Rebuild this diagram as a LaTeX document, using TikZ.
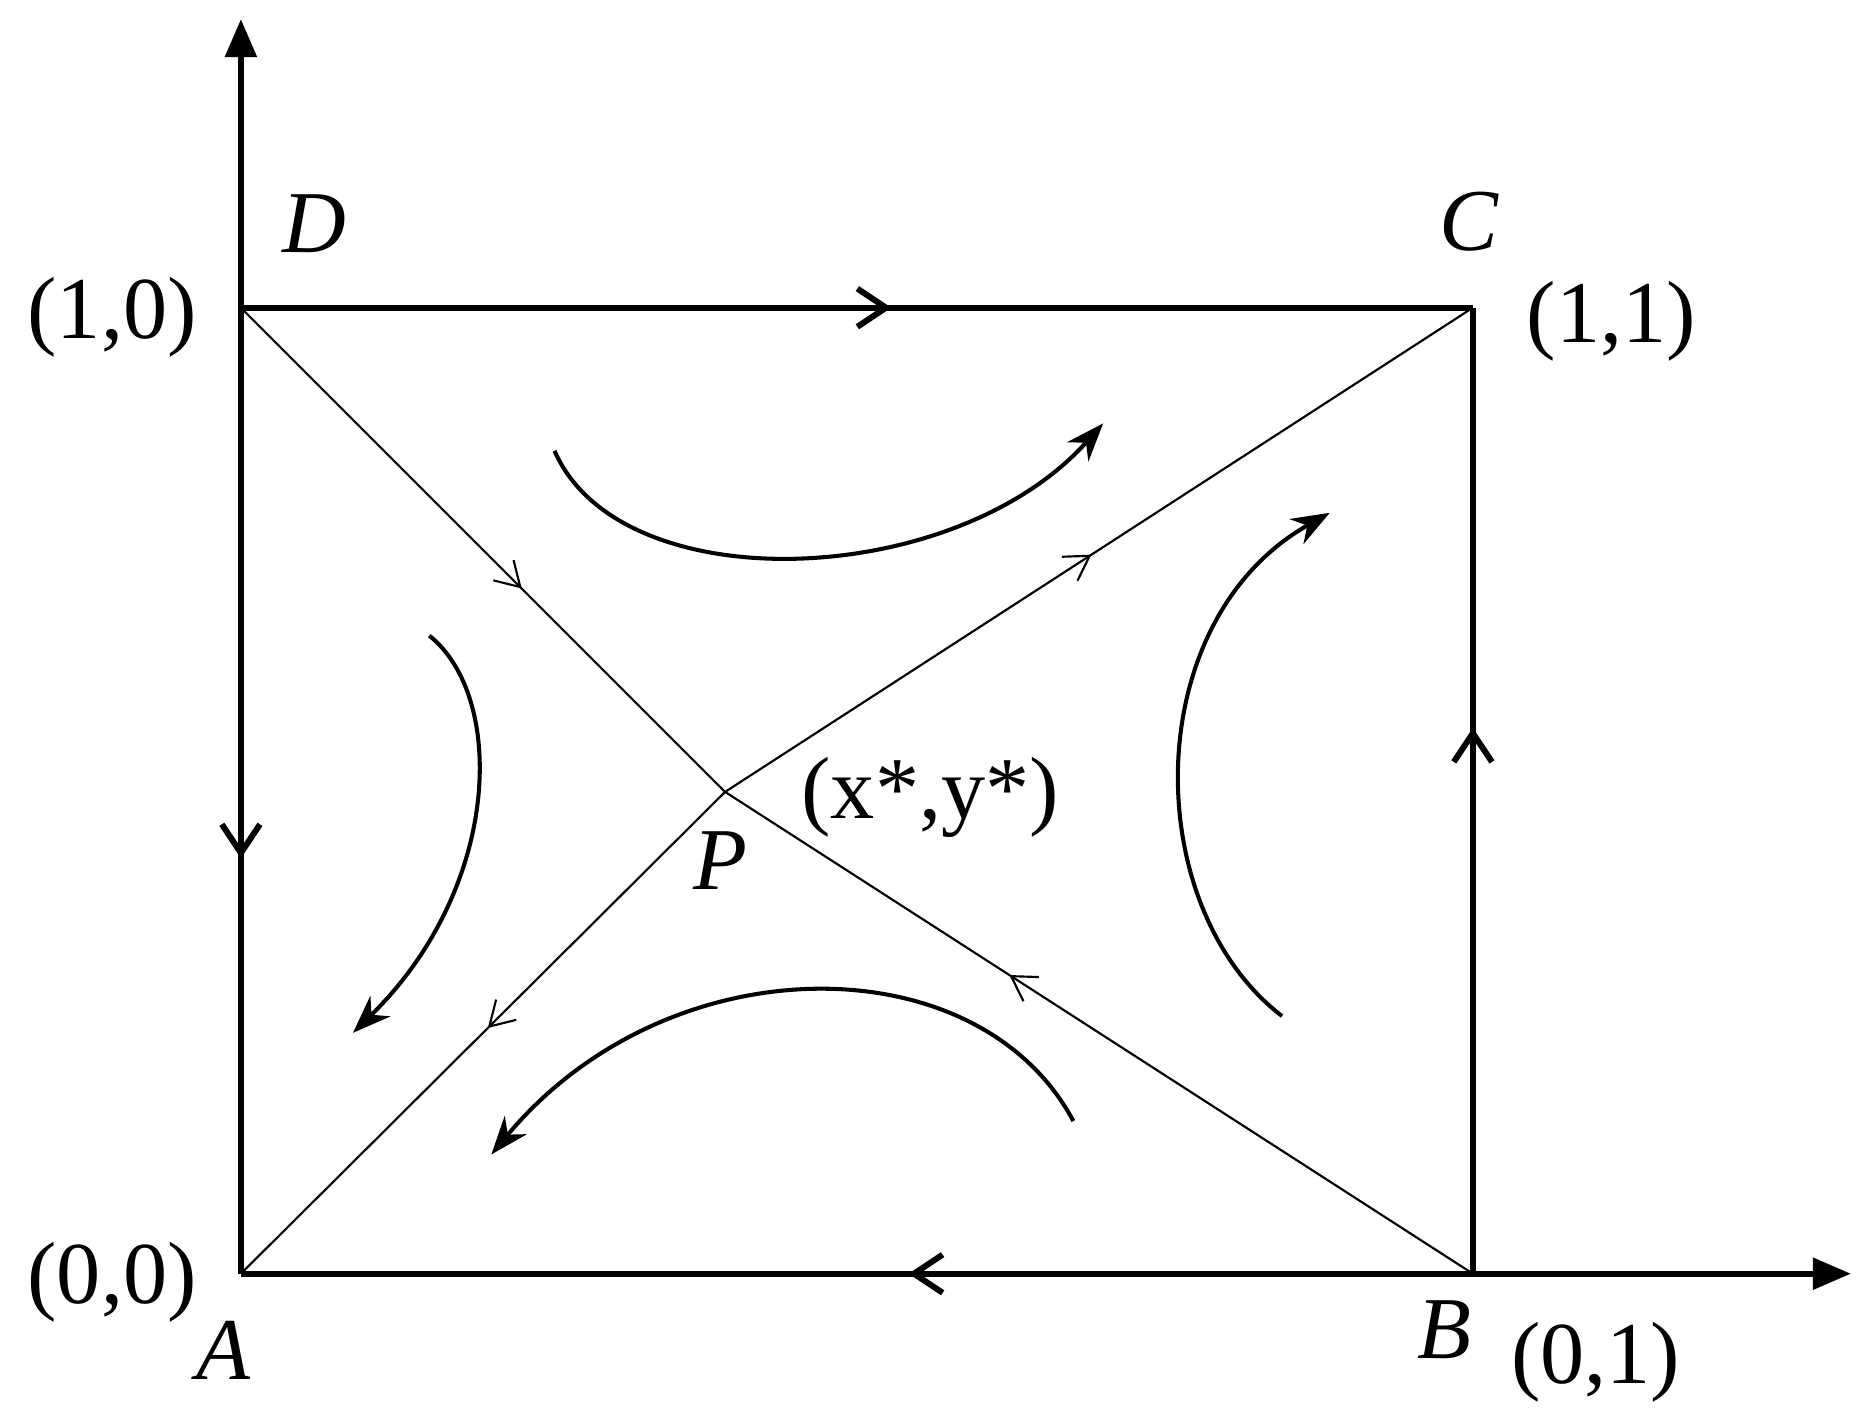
\documentclass[tikz,border=0pt]{standalone}
\usepackage{fontspec}
\setmainfont{Liberation Serif}
\usetikzlibrary{arrows.meta,decorations.markings}
\begin{document}
\begin{tikzpicture}[x=0.5pt,y=-0.5pt,
  frame/.style={line width=2.5pt},
  sep/.style={line width=0.9pt},
  flow/.style={line width=1.7pt,-{Stealth[length=16pt,width=12pt]}},
  lbl/.style={font=\fontsize{37}{42}\selectfont, inner sep=0pt, anchor=base},
  ilbl/.style={font=\fontsize{37}{42}\selectfont\itshape, inner sep=0pt, anchor=base},
  edgearrow/.style={postaction={decorate,decoration={markings,
      mark=at position #1 with {\arrow[line width=2.5pt]{Straight Barb[length=12pt,width=16pt]}}}}},
  diagarrow/.style={postaction={decorate,decoration={markings,
      mark=at position #1 with {\arrow[line width=0.9pt]{Straight Barb[length=10pt,width=12pt]}}}}},
  axisarrow/.style={frame,-{Triangle[length=16pt,width=13pt]}}]
\useasboundingbox (0,0) rectangle (1568,1192);
\coordinate (A) at (202,1068);
\coordinate (B) at (1235,1068);
\coordinate (C) at (1235,258);
\coordinate (D) at (202,258);
\coordinate (P) at (608,664);
\coordinate (ytop) at (202,16);
\coordinate (xend) at (1552,1068);
% axes
\draw[axisarrow] (A) -- (ytop);
\draw[axisarrow] (A) -- (xend);
% rectangle edges
\draw[frame, edgearrow=0.528] (D) -- (C);
\draw[frame, edgearrow=0.565] (B) -- (C);
\draw[frame, edgearrow=0.458] (B) -- (A);
\draw[frame, edgearrow=0.57] (D) -- (A);
% separatrices
\draw[sep, diagarrow=0.58] (D) -- (P);
\draw[sep, diagarrow=0.62] (B) -- (P);
\draw[sep, diagarrow=0.49] (P) -- (C);
\draw[sep, diagarrow=0.49] (P) -- (A);
% flow curves
\coordinate (t1) at (465,378); \coordinate (t2) at (925,355);
\draw[flow] (t1) .. controls (520,505) and (800,495) .. (t2);
\coordinate (r1) at (1075,852); \coordinate (r2) at (1115,430);
\draw[flow] (r1) .. controls (955,760) and (955,520) .. (r2);
\coordinate (b1) at (900,940); \coordinate (b2) at (412,968);
\draw[flow] (b1) .. controls (820,790) and (560,790) .. (b2);
\coordinate (l1) at (360,533); \coordinate (l2) at (296,866);
\draw[flow] (l1) .. controls (425,585) and (420,745) .. (l2);
% labels
\node[ilbl] (lD) at (264,212) {D};
\node[ilbl] (lC) at (1232,210) {C};
\node[lbl] (l10) at (94,284) {(1,0)};
\node[lbl] (l11) at (1351,287) {(1,1)};
\node[lbl] (lxy) at (780,686) {(x*,y*)};
\node[ilbl] (lP) at (604,746) {P};
\node[lbl] (l00) at (94,1093) {(0,0)};
\node[ilbl] (lA) at (187,1157) {A};
\node[ilbl] (lB) at (1211,1139) {B};
\node[lbl] (l01) at (1338,1160) {(0,1)};
\end{tikzpicture}
\end{document}
